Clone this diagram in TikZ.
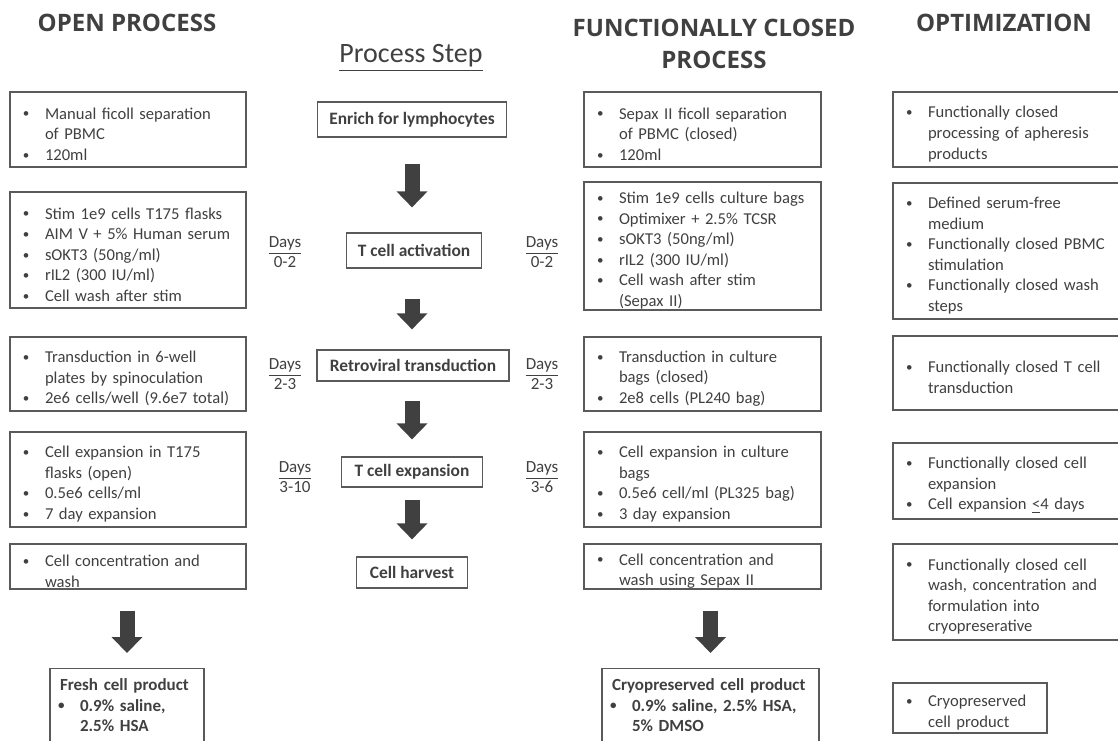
\documentclass[tikz,border=0pt]{standalone}
\usepackage{fontspec}
\setmainfont{Carlito}
\newfontfamily\headfont{Open Sans}
\usepackage{tikz}
\usetikzlibrary{arrows.meta,calc}
\definecolor{txtgray}{HTML}{404040}
\definecolor{linegray}{HTML}{5A5A5A}
\hyphenpenalty=10000
\exhyphenpenalty=10000
\newcommand{\itm}[1]{\par\hangindent=10pt\hangafter=1\noindent
  \makebox[10pt][l]{\hspace{-1pt}\raisebox{0.6pt}{\fontsize{6.5}{6.5}\selectfont
  \textbullet}}#1\par}
\tikzset{
  listbox/.style={draw=linegray, line width=0.6pt, text=txtgray,
    inner xsep=7.5pt, inner ysep=0pt, align=left,
    font=\fontsize{8.3}{10.3}\selectfont},
  prodbox/.style={listbox, anchor=north, inner xsep=5pt, inner ysep=5pt,
    font=\fontsize{8.5}{10.3}\selectfont\bfseries},
  stepbox/.style={draw=linegray, line width=0.6pt, text=txtgray,
    inner sep=0pt, align=center, font=\fontsize{8.7}{10.3}\selectfont\bfseries},
  days/.style={text=txtgray, align=center, font=\fontsize{8.5}{10}\selectfont},
  heading/.style={text=txtgray, align=center,
    font=\headfont\bfseries\fontsize{12}{16}\selectfont},
  bigarrow/.style={-{Triangle[width=15pt,length=8pt]}, line width=7.5pt,
    draw=txtgray},
}

\begin{document}
\begin{tikzpicture}[x=0.5pt,y=-0.5pt]
\path[use as bounding box] (0,0) rectangle (1118,740);
\clip (0,0) rectangle (1118,740);

% Headings
\node[heading] (hopen) at (127,23) {OPEN PROCESS};
\node[heading] (hclosed) at (714,44) {FUNCTIONALLY CLOSED\\PROCESS};
\node[heading] (hopt) at (1004,23) {OPTIMIZATION};
\node[text=txtgray, font=\fontsize{14}{16}\selectfont] (hstep) at (411,58)
  {\underline{Process Step}};

% Open process
\node[listbox, text width=103pt, minimum height=37.5pt] (oc1) at (128,129.5)
  {\itm{Manual ficoll separation\newline of PBMC}\itm{120ml}};
\node[listbox, text width=103pt, minimum height=58pt] (oc2) at (128,250)
  {\itm{Stim 1e9 cells T175 flasks}\itm{AIM V + 5\% Human serum}
   \itm{sOKT3 (50ng/ml)}\itm{rIL2 (300 IU/ml)}\itm{Cell wash after stim}};
\node[listbox, text width=103pt, minimum height=37pt] (oc3) at (128,374)
  {\itm{Transduction in 6-well\newline plates by spinoculation}
   \itm{2e6 cells/well (9.6e7 total)}};
\node[listbox, text width=103pt, minimum height=47.5pt] (oc4) at (128,479.5)
  {\itm{Cell expansion in T175\newline flasks (open)}\itm{0.5e6 cells/ml}
   \itm{7 day expansion}};
\node[listbox, text width=103pt, minimum height=22.5pt] (oc5) at (128,566.5)
  {\itm{Cell concentration and\newline wash}};
\node[prodbox, text width=67pt] (fresh) at (127,668)
  {Fresh cell product\itm{0.9\% saline,\newline 2.5\% HSA}\vspace*{6pt}};

% Process steps
\node[stepbox, minimum width=94.5pt, minimum height=17.5pt] (enrich)
  at (412,119.5) {Enrich for lymphocytes};
\node[stepbox, minimum width=67.5pt, minimum height=17.5pt] (activ)
  at (414,250.5) {T cell activation};
\node[stepbox, minimum width=96pt, minimum height=15.5pt] (retro)
  at (413,365.5) {Retroviral transduction};
\node[stepbox, minimum width=70.5pt, minimum height=15pt] (expand)
  at (412,472) {T cell expansion};
\node[stepbox, minimum width=55.5pt, minimum height=15.5pt] (harvest)
  at (412,572.5) {Cell harvest};

\node[days] (daysAl) at (285,252) {\underline{Days}\\0-2};
\node[days] (daysAr) at (542,252) {\underline{Days}\\0-2};
\node[days] (daysBl) at (285,374) {\underline{Days}\\2-3};
\node[days] (daysBr) at (542,374) {\underline{Days}\\2-3};
\node[days] (daysCl) at (295,477) {\underline{Days}\\3-10};
\node[days] (daysCr) at (542,477) {\underline{Days}\\3-6};

% Functionally closed process
\node[listbox, text width=103.5pt, minimum height=37.5pt] (cc1) at (702.5,129.5)
  {\itm{Sepax II ficoll separation\newline of PBMC (closed)}\itm{120ml}};
\node[listbox, text width=103.5pt, minimum height=64pt] (cc2) at (702.5,246)
  {\itm{Stim 1e9 cells culture bags}\itm{Optimixer + 2.5\% TCSR}
   \itm{sOKT3 (50ng/ml)}\itm{rIL2 (300 IU/ml)}
   \itm{Cell wash after stim\newline (Sepax II)}};
\node[listbox, text width=103.5pt, minimum height=37pt] (cc3) at (702.5,374)
  {\itm{Transduction in culture\newline bags (closed)}
   \itm{2e8 cells (PL240 bag)}};
\node[listbox, text width=103.5pt, minimum height=47.5pt] (cc4) at (702.5,479.5)
  {\itm{Cell expansion in culture\newline bags}
   \itm{0.5e6 cell/ml (PL325 bag)}\itm{3 day expansion}};
\node[listbox, text width=103.5pt, minimum height=22.5pt] (cc5) at (702.5,566.5)
  {\itm{Cell concentration and\newline wash using Sepax II}};
\node[prodbox, text width=98.5pt] (cryo) at (710.5,668)
  {Cryopreserved cell product\itm{0.9\% saline, 2.5\% HSA,\newline 5\% DMSO}%
   \vspace*{6pt}};

% Optimization
\node[listbox, text width=105pt, minimum height=37.5pt] (op1) at (1013,129.5)
  {\itm{Functionally closed\newline processing of apheresis\newline products}};
\node[listbox, text width=105pt, minimum height=68pt] (op2) at (1013,251)
  {\itm{Defined serum-free\newline medium}
   \itm{Functionally closed PBMC\newline stimulation}
   \itm{Functionally closed wash\newline steps}};
\node[listbox, text width=105pt, minimum height=37pt] (op3) at (1013,373)
  {\itm{Functionally closed T cell\newline transduction}};
\node[listbox, text width=105pt, minimum height=38pt] (op4) at (1013,481)
  {\itm{Functionally closed cell\newline expansion}
   \itm{Cell expansion \underline{<}4 days}};
\node[listbox, text width=105pt, minimum height=48pt] (op5) at (1013,592)
  {\itm{Functionally closed cell\newline wash, concentration and\newline
   formulation into\newline cryopreserative}};
\node[listbox, text width=62pt, minimum height=25pt] (op6) at (970,708)
  {\itm{Cryopreserved\newline cell product}};

% Arrows
\draw[bigarrow, shorten <=13pt, shorten >=12.5pt] (enrich) -- (enrich |- activ.north);
\draw[bigarrow, shorten <=15pt, shorten >=10pt] (enrich |- activ.south) -- (enrich |- retro.north);
\draw[bigarrow, shorten <=9.5pt, shorten >=8.5pt] (enrich |- retro.south) -- (enrich |- expand.north);
\draw[bigarrow, shorten <=6pt, shorten >=8.5pt] (expand) -- (harvest);
\draw[bigarrow, shorten <=10.5pt, shorten >=7.5pt]
  (fresh.north |- oc5.south) -- (fresh.north);
\draw[bigarrow, shorten <=10.5pt, shorten >=7.5pt]
  (cryo.north |- cc5.south) -- (cryo.north);
\end{tikzpicture}
\end{document}
